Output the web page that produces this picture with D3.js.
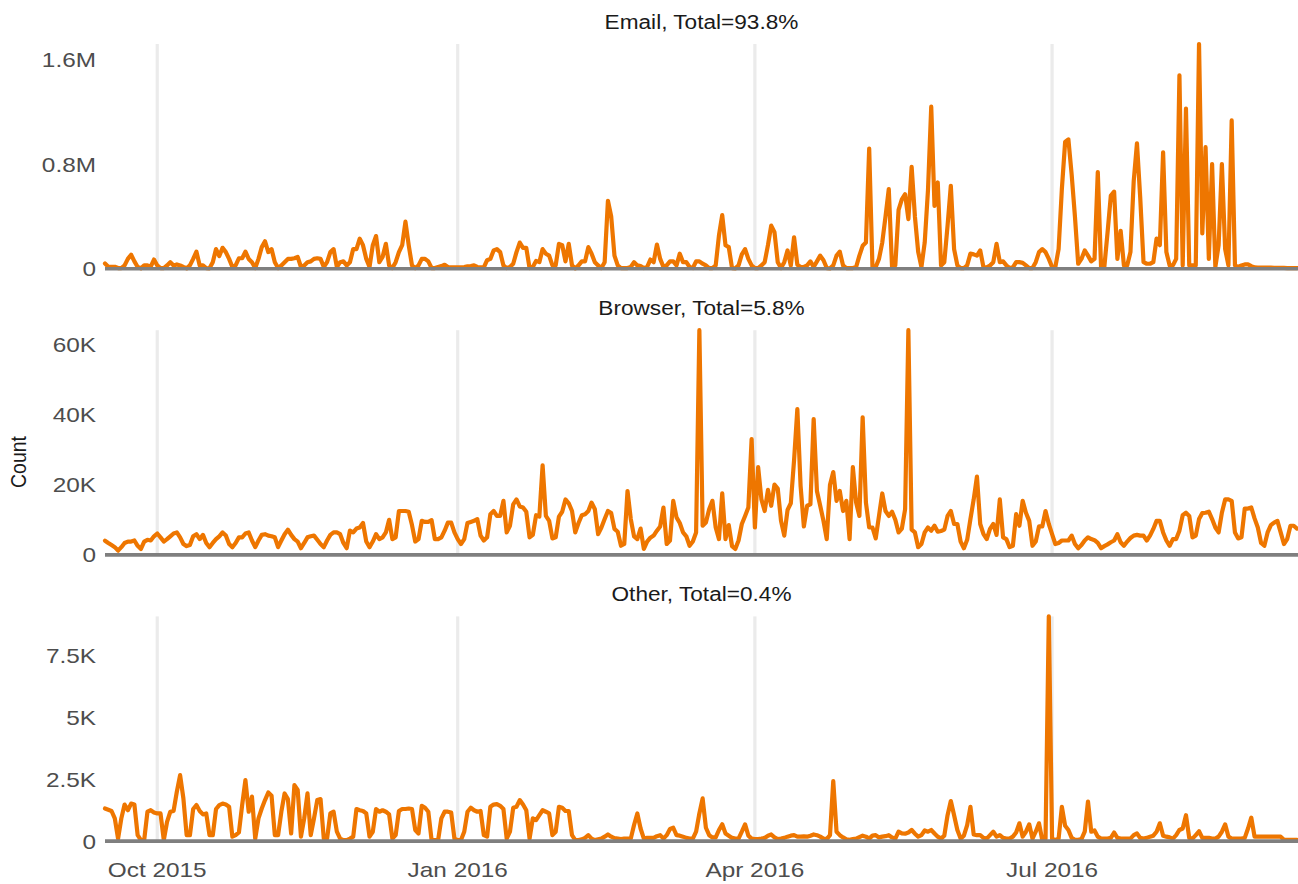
<!DOCTYPE html>
<html><head><meta charset="utf-8">
<script src="https://cdn.jsdelivr.net/npm/d3@7"></script>
<style>body{margin:0;background:#fff}svg{display:block}</style>
</head><body>
<svg id="chart" width="1298" height="884"></svg>
<script>
// ---------- data (daily counts, in thousands) ----------
const startDate = new Date(2015, 8, 15); // first day of the series
const emailK = [
40,15,15,15,5,5,25,75,107,56,
13,3,25,25,15,70,25,5,5,25,
50,25,33,25,13,3,25,75,130,25,
25,5,3,50,150,97,160,127,75,13,
25,80,80,130,75,50,5,75,165,210,
127,150,50,5,25,50,75,75,80,90,
13,25,50,56,75,80,75,13,50,127,
150,13,50,56,25,50,150,150,230,180,
75,13,180,250,50,90,190,25,5,50,
127,180,360,180,25,5,25,75,75,56,
5,5,13,20,30,13,10,10,10,10,
13,18,20,25,13,10,10,65,75,140,
150,127,25,5,13,38,127,200,160,160,
5,13,60,50,150,115,100,25,25,190,
180,56,190,25,3,25,56,56,165,115,
50,25,5,50,520,400,100,25,5,5,
5,13,50,25,20,5,13,70,50,185,
75,13,25,56,56,25,115,50,50,13,
5,56,56,38,25,5,5,25,255,410,
180,165,5,3,25,110,150,75,25,5,
5,25,50,180,330,280,50,5,50,140,
25,240,30,13,13,25,56,13,56,100,
65,5,3,25,100,130,25,5,5,5,
13,100,175,200,920,13,13,75,200,400,
610,13,25,450,530,570,380,780,400,130,
13,200,600,1240,480,660,25,50,330,635,
150,25,5,5,25,115,110,100,140,10,
10,25,50,190,50,56,25,5,10,50,
50,45,25,5,5,50,127,150,127,75,
13,13,150,610,970,990,720,400,38,75,
140,100,56,75,740,13,13,280,560,590,
75,290,25,25,127,670,960,540,50,38,
38,50,230,180,890,127,25,25,75,1480,
25,1225,25,25,25,1720,270,930,75,800,
13,180,800,150,25,1135,25,13,25,33,
33,20,10,8,8,8,8,8,7,7,
6,6,5,5,5,5
];
const browserK = [
4.05,3.4,2.8,2.2,1.2,2.2,3.4,3.8,3.8,4.1,
2.6,1.7,3.8,4.3,4.1,5.3,6.1,5.0,3.8,4.5,
5.3,6.1,6.4,5.0,3.1,2.5,2.8,5.3,5.9,4.5,
5.7,3.4,2.2,3.4,4.5,5.3,6.4,5.5,3.1,2.2,
3.4,5.0,5.0,6.1,6.4,4.1,2.2,4.1,5.7,5.9,
5.5,5.3,5.0,2.2,4.1,5.9,7.2,5.7,4.5,3.8,
1.9,3.4,5.0,5.3,5.5,4.3,3.1,2.2,4.1,5.7,
6.4,6.4,5.9,3.4,1.9,6.9,6.4,7.5,7.8,9.1,
3.8,2.2,3.8,5.9,4.5,5.0,6.4,10.0,4.5,5.0,
12.5,12.5,12.5,12.3,8.5,3.8,4.5,9.7,9.4,9.4,
9.9,4.5,4.5,5.0,6.9,9.2,9.2,6.4,4.5,3.1,
4.5,9.1,9.4,9.7,10.2,5.5,4.1,5.0,11.6,12.5,
11.1,11.1,15.4,6.4,8.3,14.4,15.8,13.8,13.5,12.3,
5.0,5.7,11.3,10.9,25.5,11.1,9.7,4.7,5.0,10.9,
12.3,15.8,14.7,12.5,6.4,9.1,11.3,11.6,12.5,14.9,
13.0,5.9,7.8,10.2,12.5,11.9,7.4,6.6,2.6,3.1,
18.2,10.2,5.3,4.5,7.5,1.7,3.8,4.9,5.5,6.9,
8.1,13.5,3.1,4.1,15.4,10.7,9.1,6.4,5.3,2.6,
3.8,6.4,64.0,8.3,9.2,13.0,15.4,7.8,4.5,17.5,
4.5,8.5,2.5,1.7,4.1,8.8,11.1,13.5,33.0,7.8,
25.0,15.8,12.5,18.5,14.0,20.0,18.9,9.7,5.5,12.8,
14.7,27.0,41.5,19.6,8.1,14.0,14.4,38.7,18.2,14.0,
9.7,4.5,20.0,23.6,15.4,18.2,12.5,15.4,4.5,25.0,
14.9,11.1,39.2,14.9,7.8,7.8,4.7,11.1,17.5,12.5,
11.1,12.3,10.0,6.4,7.5,13.0,64.0,7.2,6.4,2.2,
3.1,6.4,7.8,6.9,8.3,6.6,6.8,7.2,11.1,12.5,
8.8,8.8,3.8,1.9,4.3,10.2,15.8,22.3,8.8,5.9,
4.5,7.4,8.8,5.7,15.8,5.0,4.5,2.2,2.6,11.6,
8.3,15.4,12.0,9.7,2.6,3.8,8.1,8.1,12.5,8.8,
5.9,3.1,3.4,4.1,4.1,4.1,5.5,3.1,1.9,2.8,
4.1,5.0,4.5,4.2,3.4,1.9,2.5,3.0,3.6,4.1,
5.9,3.6,2.6,3.8,4.8,5.5,5.7,5.5,5.5,4.1,
5.5,7.4,9.7,9.7,6.4,4.1,2.6,4.5,4.5,6.9,
11.3,12.0,11.1,5.0,5.5,10.2,11.9,12.0,12.3,10.2,
7.8,6.4,12.0,15.8,15.8,15.4,6.4,4.7,5.0,13.2,
13.2,13.5,10.4,7.8,3.4,2.6,6.4,8.5,9.2,9.7,
6.4,3.1,4.5,8.3,8.3,7.5
];
const otherK = [
1.32,1.27,1.22,0.92,0.1,0.92,1.48,1.25,1.52,1.48,
0.24,0.04,0.04,1.19,1.25,1.16,1.12,1.12,0.04,0.78,
1.19,1.22,2.0,2.67,1.73,0.24,0.24,1.3,1.46,1.22,
1.08,1.12,0.24,0.24,1.3,1.46,1.52,1.48,1.39,0.18,
0.24,0.35,1.46,2.47,1.19,1.8,0.1,0.92,1.32,1.66,
1.97,1.84,0.24,0.24,1.19,1.93,1.7,0.31,2.27,2.07,
0.18,0.92,1.93,0.24,0.92,1.66,1.7,0.1,0.1,1.12,
1.19,0.38,0.1,0.04,0.04,0.1,0.18,1.3,1.25,1.22,
1.12,0.18,0.38,1.3,1.19,1.25,1.19,1.08,0.1,0.24,
1.22,1.3,1.3,1.32,1.3,0.45,0.31,1.43,1.35,1.19,
0.04,0.04,0.04,0.92,1.19,1.19,1.16,0.1,0.04,0.04,
0.38,1.19,1.35,1.25,1.19,1.22,0.24,0.18,1.39,1.48,
1.5,1.43,1.3,0.1,0.38,1.35,1.39,1.66,1.48,1.25,
0.1,0.92,0.85,1.05,1.25,1.19,1.12,0.24,0.38,1.39,
1.35,1.22,1.22,0.24,0.04,0.04,0.07,0.13,0.24,0.1,
0.04,0.07,0.1,0.18,0.27,0.18,0.12,0.1,0.08,0.1,
0.1,0.1,0.65,1.12,0.51,0.1,0.13,0.13,0.13,0.2,
0.24,0.1,0.24,0.49,0.54,0.24,0.22,0.18,0.13,0.1,
0.1,0.38,1.12,1.73,0.54,0.24,0.15,0.15,0.45,0.68,
0.31,0.22,0.13,0.1,0.1,0.38,0.68,0.22,0.1,0.08,
0.08,0.1,0.13,0.22,0.27,0.15,0.08,0.1,0.13,0.18,
0.22,0.24,0.18,0.18,0.19,0.18,0.22,0.27,0.24,0.18,
0.1,0.08,0.24,2.43,0.38,0.24,0.15,0.07,0.05,0.08,
0.1,0.16,0.22,0.18,0.1,0.22,0.24,0.15,0.18,0.2,
0.24,0.15,0.1,0.38,0.31,0.3,0.35,0.45,0.3,0.18,
0.24,0.43,0.38,0.45,0.31,0.18,0.1,0.22,1.05,1.62,
1.05,0.45,0.1,0.22,0.65,1.39,0.27,0.24,0.24,0.13,
0.1,0.24,0.38,0.18,0.24,0.13,0.1,0.1,0.18,0.35,
0.72,0.18,0.38,0.68,0.1,0.38,0.72,0.04,0.1,9.1,
0.1,0.05,0.1,1.39,0.62,0.45,0.13,0.05,0.05,0.08,
0.38,1.6,0.38,0.43,0.18,0.1,0.1,0.1,0.13,0.35,
0.13,0.1,0.1,0.1,0.1,0.24,0.31,0.13,0.1,0.13,
0.18,0.22,0.38,0.72,0.22,0.18,0.15,0.1,0.24,0.45,
0.51,1.05,0.13,0.1,0.24,0.4,0.13,0.13,0.13,0.1,
0.1,0.18,0.38,0.68,0.18,0.1,0.1,0.1,0.1,0.13,
0.51,0.95,0.18,0.18,0.18,0.18,0.18,0.18,0.18,0.18,
0.18,0.05,0.05,0.05,0.05,0.05
];
const panelTitles = ["Email, Total=93.8%", "Browser, Total=5.8%", "Other, Total=0.4%"];
const yTickValues = [[0, 800, 1600], [0, 20, 40, 60], [0, 2.5, 5, 7.5]];
const yTickLabels = [["0", "0.8M", "1.6M"], ["0", "20K", "40K", "60K"], ["0", "2.5K", "5K", "7.5K"]];
const xTickDates = [new Date(2015, 9, 1), new Date(2016, 0, 1), new Date(2016, 3, 1), new Date(2016, 6, 1)];
const xTickLabels = ["Oct 2015", "Jan 2016", "Apr 2016", "Jul 2016"];
const yAxisTitle = "Count";

// ---------- layout ----------
const W = 1298, H = 884;
const left = 105, right = 1297;
const panelTop0 = 44, panelH = 224.7, panelStep = 286.2;
const SX = 1.16; // horizontal text stretch seen in the reference
const FONT = "'Liberation Sans', Arial, Helvetica, sans-serif";
const LINE_COLOR = "#EE7600";

const svg = d3.select("#chart");
const series = [emailK, browserK, otherK];
const dates = emailK.map((_, i) => d3.timeDay.offset(startDate, i));

const x = d3.scaleTime()
  .domain([dates[0], dates[dates.length - 1]])
  .range([left, right]);

function stretchedText(g, tx, ty, str, opts) {
  return g.append("text")
    .attr("transform", `translate(${tx},${ty}) scale(${SX},1)`)
    .attr("text-anchor", opts.anchor || "middle")
    .attr("font-family", FONT)
    .attr("font-size", opts.size)
    .attr("fill", opts.fill)
    .attr("dy", opts.dy || 0)
    .text(str);
}

series.forEach((vals, p) => {
  const top = panelTop0 + p * panelStep;
  const bottom = top + panelH;
  const y = d3.scaleLinear().domain([0, d3.max(vals)]).range([bottom, top]);
  const g = svg.append("g");

  // vertical grid lines at the month ticks
  g.selectAll("line.grid").data(xTickDates).enter().append("line")
    .attr("x1", d => x(d)).attr("x2", d => x(d))
    .attr("y1", top).attr("y2", bottom)
    .attr("stroke", "#EBEBEB").attr("stroke-width", 3.2);

  // series line
  const line = d3.line()
    .x((d, i) => x(dates[i]))
    .y(d => y(d));
  g.append("path").datum(vals)
    .attr("d", line)
    .attr("fill", "none")
    .attr("stroke", LINE_COLOR)
    .attr("stroke-width", 4.2)
    .attr("stroke-linejoin", "round")
    .attr("stroke-linecap", "round");

  // bottom axis line
  g.append("line")
    .attr("x1", left).attr("x2", W)
    .attr("y1", y(0)).attr("y2", y(0))
    .attr("stroke", "#7F7F7F").attr("stroke-width", 3.6);

  // y tick labels
  yTickValues[p].forEach((v, k) => {
    stretchedText(g, 96, y(v), yTickLabels[p][k], {anchor: "end", size: 21, fill: "#4D4D4D", dy: "0.36em"});
  });

  // panel title
  stretchedText(g, (left + W) / 2, top - 15, panelTitles[p], {anchor: "middle", size: 19.5, fill: "#1A1A1A"});
});

// x tick labels
xTickDates.forEach((d, k) => {
  stretchedText(svg, x(d), 877, xTickLabels[k], {anchor: "middle", size: 21, fill: "#4D4D4D"});
});

// y axis title (rotated; the horizontal stretch widens the glyphs, not the word length)
svg.append("text")
  .attr("transform", `translate(26,462) rotate(-90) scale(1,${SX})`)
  .attr("text-anchor", "middle")
  .attr("font-family", FONT)
  .attr("font-size", 19.5)
  .attr("fill", "#1A1A1A")
  .text(yAxisTitle);
</script>
</body></html>
